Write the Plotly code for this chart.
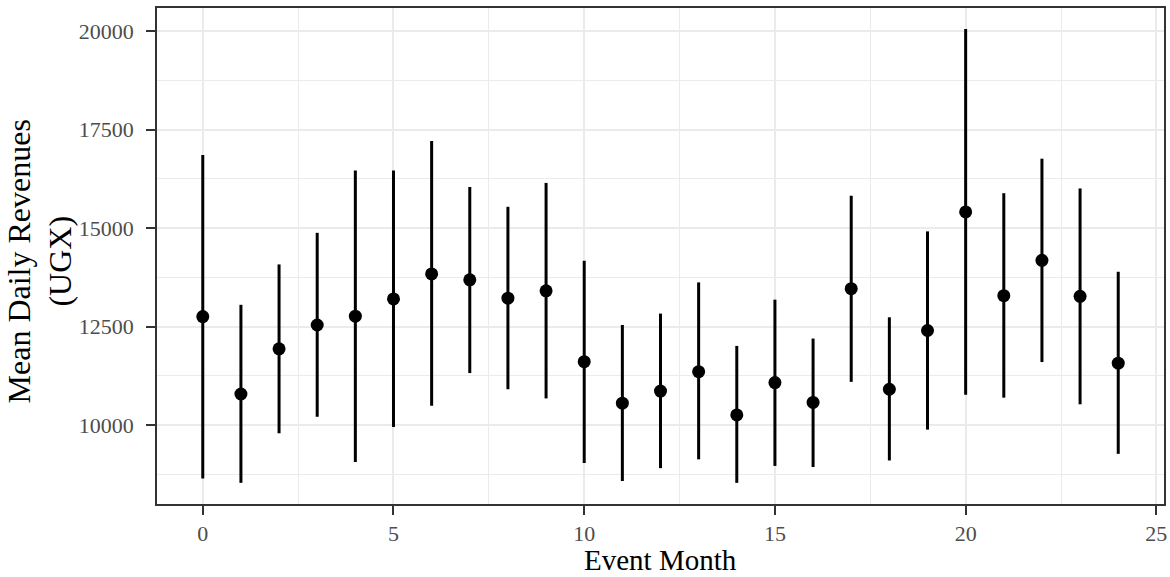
import plotly.graph_objects as go

months = list(range(25))
mean_rev = [12758, 10792, 11938, 12544, 12767, 13205, 13839, 13690, 13224, 13410,
            11612, 10559, 10867, 11360, 10261, 11081, 10578, 13466, 10913, 12404,
            15414, 13289, 14184, 13271, 11575]
upper_rev = [16858, 13056, 14081, 14883, 16467, 16467, 17212, 16047, 15544, 16150,
             14174, 12544, 12833, 13625, 12013, 13187, 12199, 15824, 12739, 14920,
             20054, 15889, 16765, 16010, 13895]
lower_rev = [8649, 8537, 9795, 10214, 9068, 9953, 10494, 11323, 10913, 10680,
             9040, 8584, 8910, 9133, 8537, 8966, 8938, 11100, 9105, 9888,
             10773, 10699, 11603, 10531, 9273]

x_ticks = [0, 5, 10, 15, 20, 25]
y_ticks = [10000, 12500, 15000, 17500, 20000]
x_title = "Event Month"
y_title = "Mean Daily Revenues<br>(UGX)"

err_plus = [u - m for u, m in zip(upper_rev, mean_rev)]
err_minus = [m - l for m, l in zip(mean_rev, lower_rev)]

FONT = "Liberation Serif"

fig = go.Figure()
fig.add_trace(go.Scatter(
    x=months, y=mean_rev, mode="markers",
    marker=dict(color="black", size=13, line=dict(width=0)),
    error_y=dict(type="data", symmetric=False, array=err_plus, arrayminus=err_minus,
                 color="black", thickness=3, width=0),
    showlegend=False,
))

axis_common = dict(
    showline=True, mirror=True, linecolor="#333333", linewidth=1.5,
    ticks="outside", ticklen=9, tickwidth=2, tickcolor="#333333",
    showgrid=True, gridcolor="#EBEBEB", gridwidth=2.2, zeroline=False,
    tickfont=dict(family=FONT, size=22, color="#4D4D4D"),
    automargin=False,
)

fig.update_layout(
    width=1170, height=577,
    margin=dict(l=157, r=6, t=8, b=73),
    paper_bgcolor="white", plot_bgcolor="white",
    font=dict(family=FONT, color="black"),
    xaxis=dict(
        range=[-1.2, 25.2], tickvals=x_ticks, ticktext=[str(v) for v in x_ticks],
        minor=dict(dtick=2.5, tick0=0, showgrid=True, gridcolor="#EBEBEB", gridwidth=1.1, ticks=""),
        ticklabelstandoff=0,
        **axis_common,
    ),
    yaxis=dict(
        range=[8000, 20590], tickvals=y_ticks, ticktext=[str(v) for v in y_ticks],
        minor=dict(dtick=1250, tick0=8750, showgrid=True, gridcolor="#EBEBEB", gridwidth=1.1, ticks=""),
        ticklabelstandoff=8,
        **axis_common,
    ),
    annotations=[
        dict(text=x_title, xref="paper", yref="paper", x=0.5, y=0,
             xanchor="center", yanchor="bottom", yshift=-73,
             borderpad=0, showarrow=False,
             font=dict(family=FONT, size=29, color="black")),
        dict(text=y_title, xref="paper", yref="paper", x=0, y=0.489,
             xanchor="center", yanchor="middle", xshift=-117, textangle=-90,
             showarrow=False, font=dict(family=FONT, size=32, color="black")),
    ],
)

fig.write_html("out.html")
